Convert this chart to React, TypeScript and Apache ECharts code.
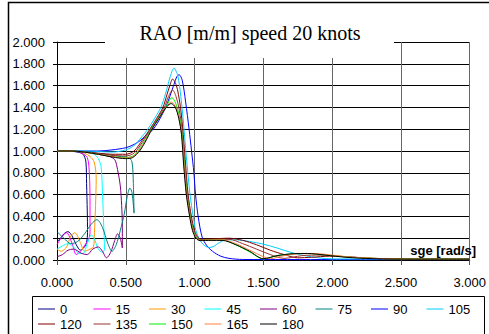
import React, { useEffect, useRef } from "react";
import * as echarts from "echarts";

const headings = ["0", "15", "30", "45", "60", "75", "90", "105", "120", "135", "150", "165", "180"];
const colors = ["#000080", "#FF00FF", "#FF9900", "#00FFFF", "#800080", "#008080", "#0000FF", "#00CCFF", "#800000", "#993333", "#00EE00", "#FF8040", "#000000"];

const h0 = [[0,1.0],[0.1,1.0],[0.15,0.99],[0.19,0.97],[0.21,0.9],[0.215,0.7],[0.22,0.45],[0.222,0.25],[0.215,0.16],[0.2,0.12],[0.17,0.09],[0.14,0.14],[0.11,0.22],[0.08,0.26],[0.05,0.24],[0.02,0.19],[0,0.17]];
const h15 = [[0,1.0],[0.12,1.0],[0.18,0.98],[0.22,0.94],[0.235,0.8],[0.24,0.5],[0.24,0.25],[0.23,0.19],[0.21,0.15],[0.17,0.08],[0.14,0.05],[0.11,0.15],[0.07,0.25],[0.04,0.22],[0,0.14]];
const h30 = [[0,1.0],[0.15,1.0],[0.2,0.98],[0.24,0.95],[0.27,0.9],[0.285,0.75],[0.28,0.5],[0.272,0.25],[0.265,0.12],[0.24,0.1],[0.2,0.08],[0.17,0.16],[0.13,0.25],[0.1,0.22],[0.07,0.12],[0.03,0.08],[0,0.1]];
const h45 = [[0,1.0],[0.15,1.0],[0.22,0.99],[0.27,0.97],[0.3,0.93],[0.32,0.86],[0.33,0.64],[0.34,0.3],[0.345,0.1],[0.33,0.07],[0.3,0.1],[0.27,0.2],[0.25,0.23],[0.22,0.15],[0.19,0.06],[0.16,0.06],[0.12,0.12],[0.08,0.15],[0.04,0.13],[0,0.1]];
const h60 = [[0,1.0],[0.2,0.99],[0.3,0.97],[0.38,0.95],[0.42,0.92],[0.44,0.83],[0.46,0.68],[0.47,0.5],[0.475,0.3],[0.475,0.11],[0.46,0.2],[0.44,0.24],[0.42,0.18],[0.39,0.07],[0.36,0.02],[0.33,0.08],[0.3,0.12],[0.26,0.1],[0.22,0.05],[0.18,0.06],[0.12,0.1],[0.08,0.09],[0.04,0.05],[0,0.03]];
const h75 = [[0,1.0],[0.2,0.99],[0.35,0.97],[0.45,0.95],[0.52,0.94],[0.545,0.9],[0.555,0.7],[0.56,0.43],[0.545,0.62],[0.53,0.66],[0.51,0.58],[0.49,0.43],[0.46,0.27],[0.43,0.14],[0.4,0.08],[0.37,0.15],[0.33,0.3],[0.29,0.37],[0.25,0.33],[0.2,0.24],[0.15,0.17],[0.1,0.15],[0.05,0.2],[0,0.26]];
const h90 = [[0,1.0],[0.1,1.0],[0.2,1.0],[0.3,1.0],[0.4,1.01],[0.5,1.03],[0.56,1.06],[0.61,1.1],[0.66,1.16],[0.7,1.2],[0.75,1.3],[0.79,1.4],[0.82,1.5],[0.85,1.61],[0.87,1.68],[0.887,1.7],[0.91,1.65],[0.935,1.45],[0.96,1.2],[0.978,1.0],[0.995,0.8],[1.007,0.6],[1.026,0.4],[1.055,0.21],[1.09,0.13],[1.13,0.08],[1.19,0.035],[1.25,0.015],[1.35,0.005],[2.0,0.004],[3.0,0.003]];
const h105 = [[0,1.0],[0.1,1.0],[0.2,1.0],[0.3,0.995],[0.4,0.99],[0.5,1.01],[0.56,1.05],[0.61,1.12],[0.66,1.2],[0.71,1.3],[0.755,1.4],[0.79,1.53],[0.82,1.67],[0.85,1.76],[0.878,1.69],[0.9,1.5],[0.92,1.25],[0.94,0.95],[0.967,0.6],[0.99,0.4],[1.01,0.27],[1.04,0.18],[1.075,0.13],[1.11,0.115],[1.14,0.125],[1.18,0.16],[1.23,0.185],[1.3,0.185],[1.4,0.17],[1.5,0.145],[1.6,0.11],[1.7,0.07],[1.8,0.04],[1.9,0.02],[2.0,0.01],[2.3,0.01],[3.0,0.008]];
const h120 = [[0,1.0],[0.1,1.0],[0.2,0.99],[0.3,0.98],[0.4,0.97],[0.5,0.97],[0.56,1.0],[0.62,1.1],[0.675,1.2],[0.725,1.3],[0.77,1.4],[0.8,1.52],[0.82,1.6],[0.84,1.66],[0.868,1.6],[0.893,1.44],[0.913,1.22],[0.932,0.92],[0.953,0.6],[0.977,0.4],[1.0,0.27],[1.03,0.2],[1.07,0.19],[1.15,0.195],[1.25,0.2],[1.35,0.18],[1.45,0.14],[1.55,0.09],[1.65,0.05],[1.75,0.02],[1.85,0.025],[1.98,0.035],[2.1,0.03],[2.3,0.015],[2.6,0.008],[3.0,0.008]];
const h135 = [[0,1.0],[0.1,1.0],[0.2,0.99],[0.3,0.975],[0.4,0.96],[0.5,0.955],[0.56,0.98],[0.62,1.08],[0.68,1.2],[0.73,1.3],[0.78,1.4],[0.81,1.5],[0.84,1.56],[0.865,1.5],[0.89,1.37],[0.91,1.18],[0.928,0.9],[0.948,0.6],[0.972,0.4],[0.995,0.27],[1.02,0.2],[1.06,0.185],[1.15,0.19],[1.25,0.19],[1.35,0.15],[1.45,0.1],[1.55,0.05],[1.65,0.015],[1.78,0.04],[1.92,0.045],[2.1,0.03],[2.3,0.015],[2.6,0.008],[3.0,0.008]];
const h150 = [[0,1.0],[0.1,1.0],[0.2,0.99],[0.3,0.97],[0.4,0.95],[0.5,0.94],[0.56,0.96],[0.62,1.06],[0.685,1.2],[0.735,1.3],[0.79,1.4],[0.815,1.46],[0.835,1.49],[0.862,1.44],[0.887,1.33],[0.907,1.17],[0.924,0.9],[0.944,0.6],[0.968,0.4],[0.99,0.27],[1.015,0.2],[1.05,0.18],[1.12,0.185],[1.2,0.185],[1.3,0.14],[1.4,0.075],[1.5,0.01],[1.6,0.04],[1.75,0.06],[1.85,0.058],[2.0,0.04],[2.2,0.02],[2.5,0.01],[3.0,0.008]];
const h165 = [[0,1.0],[0.1,1.0],[0.2,0.99],[0.3,0.97],[0.4,0.95],[0.5,0.935],[0.56,0.955],[0.62,1.05],[0.69,1.2],[0.74,1.3],[0.795,1.4],[0.83,1.45],[0.86,1.41],[0.885,1.31],[0.905,1.16],[0.922,0.9],[0.942,0.6],[0.966,0.4],[0.987,0.27],[1.012,0.2],[1.045,0.18],[1.12,0.185],[1.2,0.185],[1.3,0.15],[1.4,0.09],[1.5,0.03],[1.55,0.012],[1.65,0.04],[1.78,0.058],[1.88,0.058],[2.0,0.045],[2.15,0.025],[2.4,0.012],[3.0,0.008]];
const h180 = [[0,1.0],[0.1,1.0],[0.2,0.99],[0.3,0.97],[0.4,0.945],[0.5,0.93],[0.55,0.94],[0.6,1.0],[0.64,1.08],[0.69,1.2],[0.74,1.3],[0.8,1.41],[0.83,1.435],[0.86,1.4],[0.885,1.3],[0.905,1.15],[0.92,0.88],[0.94,0.6],[0.964,0.4],[0.985,0.27],[1.01,0.2],[1.04,0.178],[1.12,0.18],[1.2,0.18],[1.3,0.14],[1.4,0.08],[1.5,0.012],[1.6,0.04],[1.72,0.058],[1.82,0.06],[1.95,0.045],[2.1,0.025],[2.3,0.012],[2.6,0.008],[3.0,0.008]];

const seriesValues = [h0, h15, h30, h45, h60, h75, h90, h105, h120, h135, h150, h165, h180];

const titleText = "RAO [m/m] speed 20 knots";
const xAxisName = "sge [rad/s]";

export default function App() {
  const ref = useRef<HTMLDivElement>(null);
  useEffect(() => {
    if (!ref.current) return;
    const chart = echarts.init(ref.current, null, { renderer: "svg" });
    const font = "Liberation Sans";
    chart.setOption({
      animation: false,
      backgroundColor: "#fff",
      grid: { left: 57, right: 16, top: 42, bottom: 74 },
      xAxis: {
        type: "value",
        min: 0,
        max: 3,
        interval: 0.5,
        axisLine: { show: true, lineStyle: { color: "#000", width: 1 } },
        axisTick: { show: true, length: 5, lineStyle: { color: "#555" } },
        splitLine: { show: true, lineStyle: { color: "#666", width: 1 } },
        axisLabel: { formatter: (v: number) => v.toFixed(3), fontSize: 13, fontFamily: font, color: "#000", margin: 16 },
      },
      yAxis: {
        type: "value",
        min: 0,
        max: 2,
        interval: 0.2,
        axisLine: { show: true, lineStyle: { color: "#000", width: 1 } },
        axisTick: { show: true, length: 4, lineStyle: { color: "#000" } },
        splitLine: { show: true, lineStyle: { color: "#000", width: 1 } },
        axisLabel: { formatter: (v: number) => v.toFixed(3), fontSize: 13, fontFamily: font, color: "#000", margin: 12 },
      },
      legend: {
        left: 38,
        top: 302,
        width: 480,
        padding: 0,
        icon: "rect",
        itemWidth: 17,
        itemHeight: 1,
        itemGap: 1,
        textStyle: { fontFamily: font, fontSize: 13, color: "#000", width: 32.5, lineHeight: 14 },
        data: headings,
      },
      series: seriesValues.map((d, i) => ({
        name: headings[i],
        type: "line",
        data: d,
        symbol: "none",
        smooth: 0.3,
        lineStyle: { color: colors[i], width: 1 },
        itemStyle: { color: colors[i] },
      })),
      graphic: [
        { type: "rect", z: 100, shape: { x: 8.5, y: 2.5, width: 500, height: 400 }, style: { fill: "none", stroke: "#000", lineWidth: 1.5 } },
        { type: "rect", z: 100, shape: { x: 105, y: 8, width: 289, height: 50 }, style: { fill: "#fff" } },
        { type: "text", z: 101, x: 250, y: 33, style: { text: titleText, font: '20px "Liberation Serif"', fill: "#000", textAlign: "center", textVerticalAlign: "middle" } },
        { type: "rect", z: 100, shape: { x: 32.5, y: 296.5, width: 452, height: 50 }, style: { fill: "none", stroke: "#000", lineWidth: 1 } },
        { type: "text", z: 101, x: 476, y: 250, style: { text: xAxisName, font: 'bold 13px "Liberation Sans"', fill: "#000", textAlign: "right", textVerticalAlign: "middle" } },
      ],
    });
    return () => chart.dispose();
  }, []);
  return <div ref={ref} style={{ position: "fixed", left: 0, top: 0, width: 489, height: 334 }} />;
}
